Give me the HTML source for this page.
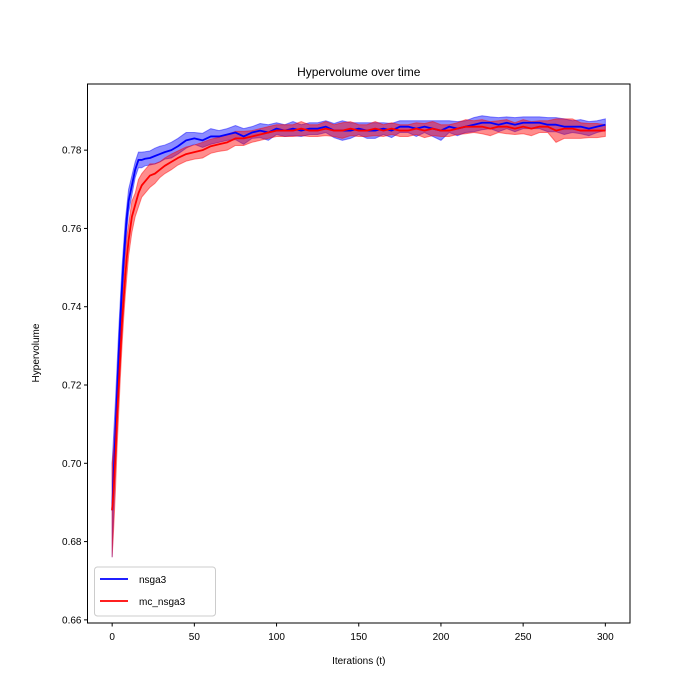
<!DOCTYPE html>
<html><head><meta charset="utf-8"><style>
body{margin:0;background:#fff}
svg{display:block;font-family:"Liberation Sans","DejaVu Sans",sans-serif}
</style></head><body>
<svg id="chart" width="700" height="700"></svg>
<script>
const iters=[0,1,2,3,4,5,6,7,8,9,10,12,14,16,18,20,23,26,29,32,36,40,45,50,55,60,65,70,75,80,85,90,95,100,105,110,115,120,125,130,135,140,145,150,155,160,165,170,175,180,185,190,195,200,205,210,215,220,225,230,235,240,245,250,255,260,265,270,275,280,285,290,295,300];
const nsga3Mean=[.688,.698,.708,.718,.728,.737,.745,.752,.758,.763,.767,.771,.775,.7775,.7775,.7778,.778,.7785,.779,.7795,.780,.781,.7825,.783,.7825,.7835,.7835,.784,.7845,.7835,.7845,.785,.7845,.7855,.785,.7855,.785,.7855,.7855,.786,.785,.785,.785,.7855,.785,.785,.7855,.785,.786,.786,.7855,.786,.7855,.785,.786,.7855,.786,.7865,.787,.787,.7865,.787,.7865,.787,.787,.787,.7865,.7865,.786,.786,.786,.7855,.786,.7865];
const nsga3Std=[.012,.010,.008,.007,.006,.005,.005,.004,.004,.003,.003,.0025,.002,.002,.002,.0018,.0018,.002,.002,.0018,.002,.002,.002,.0015,.0018,.002,.0015,.0015,.0018,.002,.0015,.0018,.002,.0015,.0015,.0018,.0015,.0015,.0015,.0015,.0018,.0025,.002,.0015,.002,.002,.0015,.0018,.0015,.0015,.002,.0015,.002,.0025,.0015,.0018,.0015,.0018,.0018,.0015,.0018,.0015,.0018,.0015,.0015,.0015,.0018,.0018,.002,.0015,.0018,.0018,.0015,.0015];
const mcMean=[.688,.694,.702,.712,.720,.728,.736,.742,.748,.753,.757,.763,.766,.769,.771,.772,.7735,.774,.775,.776,.777,.778,.779,.7795,.780,.781,.7815,.782,.783,.783,.7835,.784,.7845,.785,.785,.785,.7855,.785,.785,.7855,.785,.785,.7855,.785,.785,.7855,.785,.7855,.785,.785,.7855,.785,.7855,.785,.785,.7855,.786,.786,.786,.7855,.786,.786,.7855,.786,.7855,.786,.786,.785,.7855,.7855,.785,.785,.785,.785];
const mcStd=[.012,.010,.009,.008,.007,.006,.006,.005,.005,.005,.004,.004,.003,.0035,.003,.003,.003,.0025,.002,.002,.002,.0018,.0018,.0018,.002,.0018,.0018,.002,.0018,.0018,.0015,.0015,.0015,.0015,.0015,.0015,.0018,.0015,.0015,.0018,.0015,.002,.0018,.0015,.0015,.0018,.0015,.0015,.0015,.0015,.0015,.0018,.0018,.0015,.0015,.0015,.0018,.0015,.0018,.0018,.0015,.0018,.0015,.0018,.0018,.0015,.0015,.003,.0025,.0025,.002,.0018,.0018,.0015];
const xTicks=[0,50,100,150,200,250,300];
const yTicks=[0.66,0.68,0.70,0.72,0.74,0.76,0.78];
const yTickLabels=["0.66","0.68","0.70","0.72","0.74","0.76","0.78"];

const L=87.5,R=630,T=84,B=623;
const xMin=-15,xMax=315,yMin=0.6592,yMax=0.7969;
const X=v=>L+(v-xMin)/(xMax-xMin)*(R-L);
const Y=v=>B-(v-yMin)/(yMax-yMin)*(B-T);
const NS="http://www.w3.org/2000/svg";
const svg=document.getElementById('chart');
function mk(tag,attrs,parent){const e=document.createElementNS(NS,tag);for(const k in attrs)e.setAttribute(k,attrs[k]);(parent||svg).appendChild(e);return e;}
function txt(s,attrs){const t=mk('text',attrs);t.textContent=s;return t;}

function band(mean,std,color,name){
  let d='';
  iters.forEach((t,i)=>{d+=(i?'L':'M')+X(t)+','+Y(mean[i]+std[i]);});
  for(let i=iters.length-1;i>=0;i--)d+='L'+X(iters[i])+','+Y(mean[i]-std[i]);
  const p=mk('path',{d:d+'Z',fill:color,'fill-opacity':0.45,stroke:color,'stroke-opacity':0.45,'stroke-width':1});
  
  
}
function line(mean,color,name){
  const d=iters.map((t,i)=>(i?'L':'M')+X(t)+','+Y(mean[i])).join('');
  const p=mk('path',{d,fill:'none',stroke:color,'stroke-width':1.8,'stroke-linejoin':'round'});
  
  
}
band(nsga3Mean,nsga3Std,'#0000ff','nsga3-band');
band(mcMean,mcStd,'#ff0000','mc-nsga3-band');
line(nsga3Mean,'#0000ff','nsga3-line');
line(mcMean,'#ff0000','mc-nsga3-line');

const frame=mk('rect',{x:L,y:T,width:R-L,height:B-T,fill:'none',stroke:'#000','stroke-width':1});



xTicks.forEach(v=>{
  mk('line',{x1:X(v),x2:X(v),y1:B,y2:B+3.5,stroke:'#000'});
  const t=txt(String(v),{x:X(v),y:B+17,'text-anchor':'middle','font-size':10});
  
  
});
yTicks.forEach((v,i)=>{
  mk('line',{x1:L-3.5,x2:L,y1:Y(v),y2:Y(v),stroke:'#000'});
  const t=txt(yTickLabels[i],{x:L-6,y:Y(v)+3.5,'text-anchor':'end','font-size':10});
  
  
});
</script>
<svg width="700" height="700" style="position:absolute;left:0;top:0;font-family:'Liberation Sans','DejaVu Sans',sans-serif">
<text x="358.75" y="76" text-anchor="middle" font-size="12">Hypervolume over time</text>
<text x="358.75" y="664" text-anchor="middle" font-size="10">Iterations (t)</text>
<text x="39" y="353" text-anchor="middle" font-size="10" transform="rotate(-90 39 353)">Hypervolume</text>
<g>
<rect x="94.5" y="567" width="121" height="49" rx="3" fill="#fff" fill-opacity="0.8" stroke="#ccc"/>
<line x1="100" x2="128" y1="579" y2="579" stroke="#0000ff" stroke-width="1.8"/>
<text x="139" y="583" font-size="10">nsga3</text>
<line x1="100" x2="128" y1="601" y2="601" stroke="#ff0000" stroke-width="1.8"/>
<text x="139" y="605" font-size="10">mc_nsga3</text>
</g>
</svg>
</body></html>
